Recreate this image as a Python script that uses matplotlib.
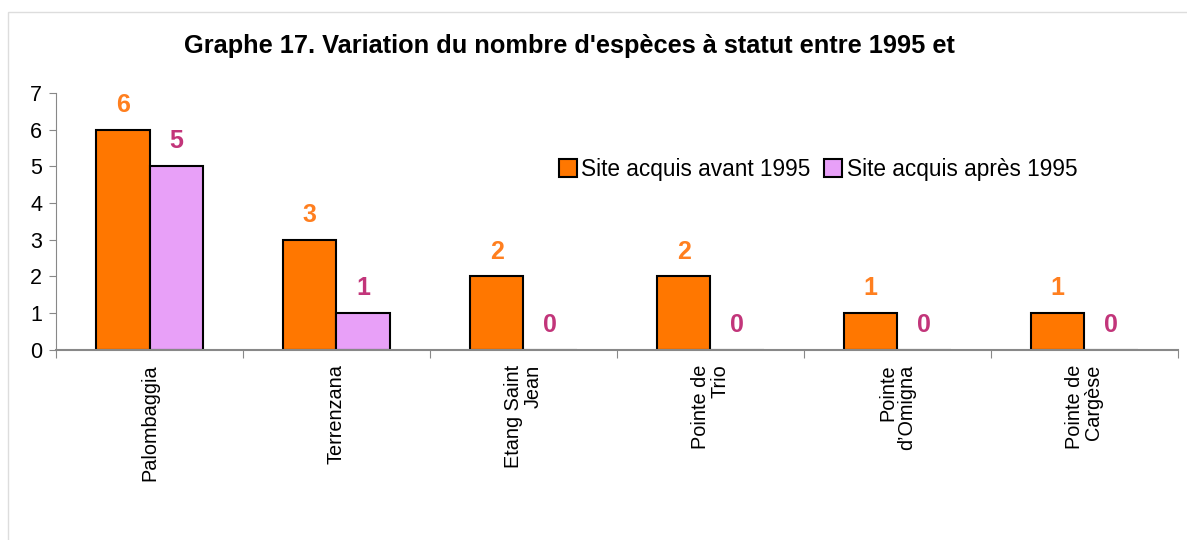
import numpy as np
import matplotlib.pyplot as plt
from matplotlib.patches import Rectangle

plt.rcParams['font.family'] = ['Liberation Sans', 'DejaVu Sans']

sites = ['Palombaggia', 'Terrenzana', 'Etang Saint\nJean', 'Pointe de\nTrio',
         'Pointe\nd\u2019Omigna', 'Pointe de\nCargèse']
avant_1995 = [6, 3, 2, 2, 1, 1]
apres_1995 = [5, 1, 0, 0, 0, 0]

fig = plt.figure(figsize=(11.87, 5.4), dpi=100)
ax = fig.add_axes([0.0472, 0.352, 0.945, 0.476])

# cadre gris autour du graphique
fig.patches.append(Rectangle((8 / 1187, -0.1), 1.2, 1 - 12 / 540 + 0.1,
                             transform=fig.transFigure, fill=False,
                             edgecolor='#dddddd', lw=1))

x = np.arange(len(sites))
w = 0.286
ax.bar(x - w / 2, avant_1995, w, color='#FF7700', edgecolor='black', lw=1.5,
       label='Site acquis avant 1995')
ax.bar(x + w / 2, apres_1995, w, color='#E8A0F8', edgecolor='black', lw=1.5,
       label='Site acquis après 1995')

for i in range(len(sites)):
    ax.text(x[i] - w / 2, avant_1995[i] + 0.68, str(avant_1995[i]), ha='center', va='center',
            color='#FF7F1F', fontsize=18, fontweight='bold')
    ax.text(x[i] + w / 2, apres_1995[i] + 0.68, str(apres_1995[i]), ha='center', va='center',
            color='#C2357A', fontsize=18, fontweight='bold')

ax.set_xlim(-0.5, len(sites) - 0.5)
ax.set_ylim(0, 7)
ax.set_yticks(range(8))
ax.tick_params(axis='y', labelsize=15.5, length=5, color='#888888', pad=5)

ax.set_xticks(np.arange(len(sites) + 1) - 0.5)
ax.set_xticklabels([])
ax.tick_params(axis='x', length=6, color='#888888')
for i, s in enumerate(sites):
    ax.text(x[i], -0.4, s, rotation=90, ha='center', va='top', multialignment='right',
            fontsize=14.3, linespacing=1.0)

for side in ['top', 'right']:
    ax.spines[side].set_visible(False)
ax.spines['left'].set_color('#888888')
ax.spines['bottom'].set_color('#888888')
ax.spines['bottom'].set_linewidth(1.5)

ax.legend(loc='upper left', bbox_to_anchor=(0.43, 0.827), ncol=2, frameon=False,
          fontsize=16.3, handlelength=0.8, handleheight=0.8, handletextpad=0.2,
          columnspacing=0.6)

fig.text(0.48, 0.915, "Graphe 17. Variation du nombre d'espèces à statut entre 1995 et",
         ha='center', va='center', fontsize=18.3, fontweight='bold')

fig.savefig('out.png', dpi=100)
